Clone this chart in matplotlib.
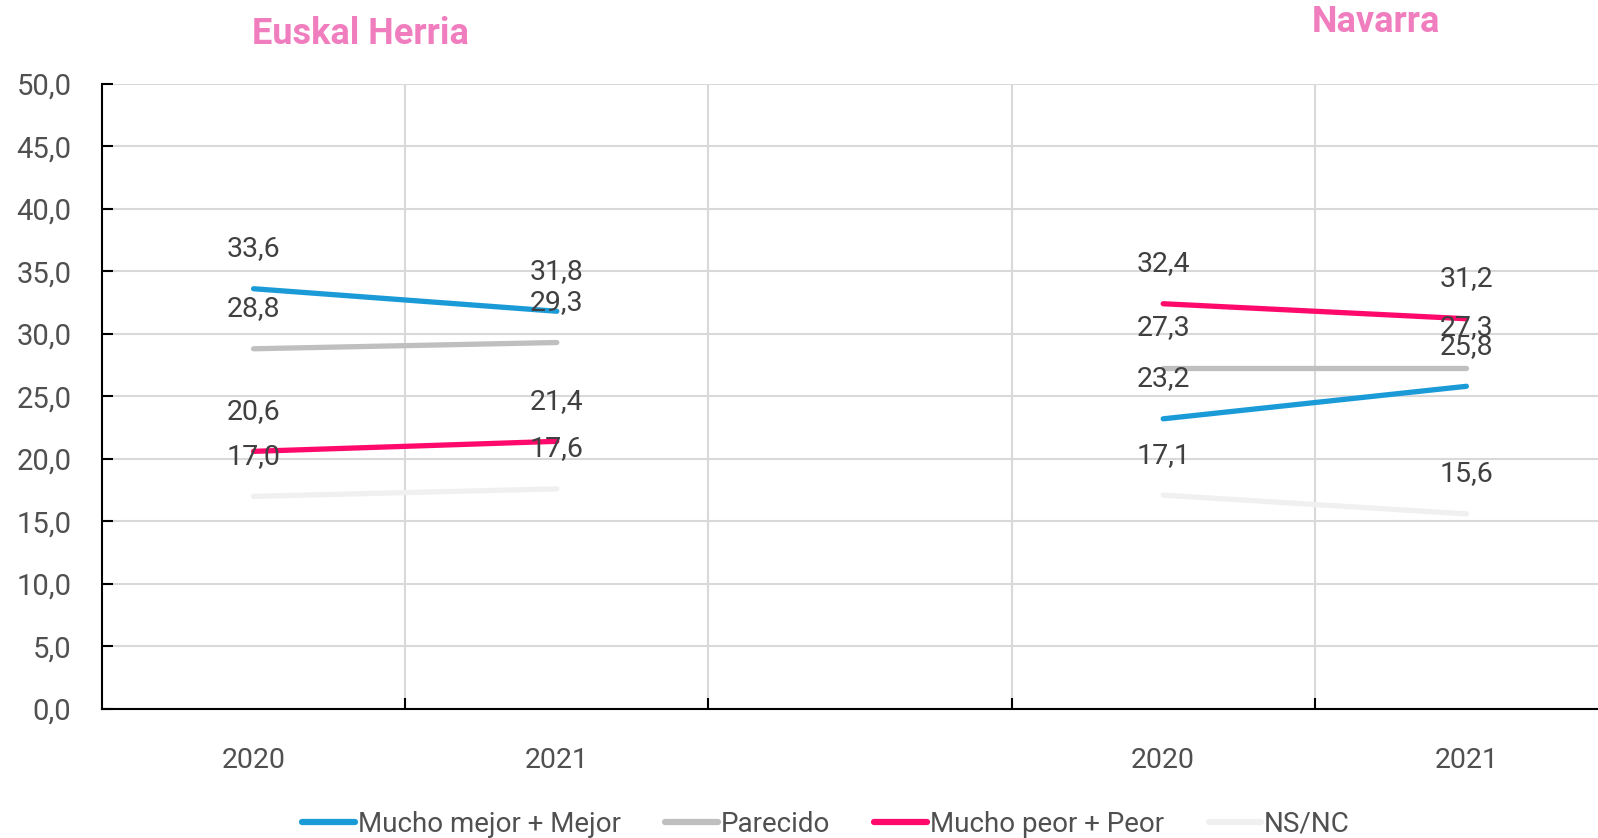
import numpy as np
import matplotlib.pyplot as plt
from matplotlib.lines import Line2D

plt.rcParams['font.family'] = ['Roboto', 'DejaVu Sans']

# categories: two years per region, with an empty slot between the regions
cats = ['2020', '2021', '', '2020', '2021']
regions = ['Euskal Herria', 'Navarra']

series = ['Mucho mejor + Mejor', 'Parecido', 'Mucho peor + Peor', 'NS/NC']
mejor_eh = [33.6, 31.8]
mejor_na = [23.2, 25.8]
parecido_eh = [28.8, 29.3]
parecido_na = [27.3, 27.3]
peor_eh = [20.6, 21.4]
peor_na = [32.4, 31.2]
nsnc_eh = [17.0, 17.6]
nsnc_na = [17.1, 15.6]

colors = ['#1A9BD7', '#BFBFBF', '#FF0A6C', '#F0F0F0']
eh_vals = [mejor_eh, parecido_eh, peor_eh, nsnc_eh]
na_vals = [mejor_na, parecido_na, peor_na, nsnc_na]

fig = plt.figure(figsize=(15.98, 8.38), dpi=100)
ax = fig.add_axes([102/1598, 1 - 709/838, 1516/1598, (709 - 83.6)/838])

x_eh = [0, 1]
x_na = [3, 4]
txt = '#404040'
for i in range(len(series)):
    for xs, ys in [(x_eh, eh_vals[i]), (x_na, na_vals[i])]:
        ax.plot(xs, ys, color=colors[i], lw=3.8, solid_capstyle='round', zorder=3)
        for x, y in zip(xs, ys):
            ax.annotate(('%.1f' % y).replace('.', ','), (x, y), xytext=(0, 40),
                        textcoords='offset pixels', ha='center', va='center',
                        fontsize=20.5, color=txt, zorder=4)

ax.set_xlim(-0.5, 4.5)
ax.set_ylim(0, 50)
ax.set_yticks(np.arange(0, 51, 5))
ax.set_yticklabels([('%.1f' % v).replace('.', ',') for v in np.arange(0, 51, 5)])
ax.set_xticks(range(5))
ax.set_xticklabels(cats)
ax.set_xticks([0.5, 1.5, 2.5, 3.5], minor=True)
ax.tick_params(axis='x', which='major', length=0, pad=27, labelsize=20.5, labelcolor='#505050')
ax.tick_params(axis='x', which='minor', length=8, width=1.5, direction='in', color='black')
ax.tick_params(axis='y', length=8, width=1.5, direction='in', labelsize=21, labelcolor='#505050')
ax.yaxis.set_tick_params(pad=22)

ax.grid(axis='y', color='#D9D9D9', lw=1.5)
ax.grid(axis='x', which='minor', color='#D9D9D9', lw=1.5)
ax.set_axisbelow(True)
for s in ['top', 'right']:
    ax.spines[s].set_visible(False)
for s in ['left', 'bottom']:
    ax.spines[s].set_linewidth(1.5)
    ax.spines[s].set_color('black')
    ax.spines[s].set_zorder(5)

fig.text(360/1598, 1 - 34/838, regions[0], ha='center', va='center',
         fontsize=26, fontweight='bold', color='#F07DBE')
fig.text(1376/1598, 1 - 22/838, regions[1], ha='center', va='center',
         fontsize=26, fontweight='bold', color='#F07DBE')

handles = [Line2D([0], [0], color=c, lw=4.5, solid_capstyle='round') for c in colors]
fig.legend(handles, series, loc='center', bbox_to_anchor=(826/1598, 1 - 824/838),
           ncol=4, frameon=False, fontsize=20, handlelength=1.9, handletextpad=0.1,
           columnspacing=1.6, labelcolor='#505050')

fig.savefig('out.png', dpi=100)
